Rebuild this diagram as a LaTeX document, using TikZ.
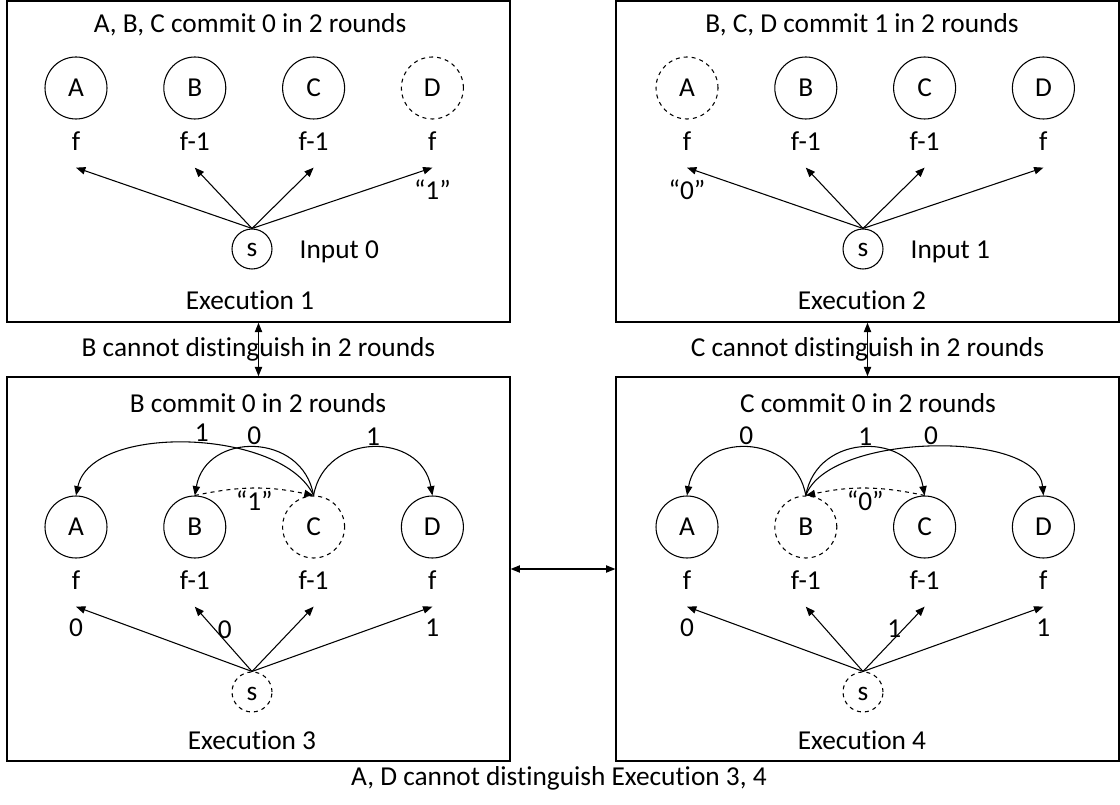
\documentclass[tikz,border=0pt]{standalone}
\usepackage{fontspec}
\setmainfont{Carlito}[Ligatures={TeX,NoCommon}]
\usetikzlibrary{shapes,arrows.meta,positioning}
\tikzstyle{proc} = [draw, circle, minimum size=46.5pt, inner sep=0pt]
\tikzstyle{faulty} = [proc, dashed]
\tikzstyle{src} = [draw, circle, minimum size=30pt, inner sep=0pt, text height=12pt, text depth=0pt]
\tikzstyle{panel} = [draw, line width=1.2pt, minimum width=377pt, inner sep=0pt]
\tikzstyle{lbl} = [inner sep=0pt, text height=14pt, text depth=0pt]
\tikzstyle{msg} = [inner sep=1.5pt]

\begin{document}
\begin{tikzpicture}[->,>={Triangle[length=7pt,width=5.5pt]},x=0.75pt,y=-0.75pt,
  node distance=41.8pt,line width=0.8pt,font=\fontsize{20.5}{24}\selectfont]
\useasboundingbox (0,0) rectangle (1120,805);

% the four executions
\node[panel, minimum height=240.75pt] (P1) at (258.5,161.5) {};
\node[panel, minimum height=240.75pt] (P2) at (867.5,161.5) {};
\node[panel, minimum height=288pt] (P3) at (258.5,569) {};
\node[panel, minimum height=288pt] (P4) at (867.5,569) {};

% Execution 1
\node (T1) at (250,25) {A, B, C commit 0 in 2 rounds};
\node[proc] (A1) at (76,88) {A};
\node[proc, right=of A1] (B1) {B};
\node[proc, right=of B1] (C1) {C};
\node[faulty, right=of C1] (D1) {D};
\node[lbl, below=8.8pt of A1] (fA1) {f};
\node[lbl, below=8.8pt of B1] (fB1) {f-1};
\node[lbl, below=8.8pt of C1] (fC1) {f-1};
\node[lbl, below=8.8pt of D1] (fD1) {f};
\coordinate[below=12.5pt of fA1] (tA1);
\coordinate[below=12.5pt of fB1] (tB1);
\coordinate[below=12.5pt of fC1] (tC1);
\coordinate[below=12.5pt of fD1] (tD1);
\node[src] (s1) at (252,249) {s};
\node[lbl, right=20pt of s1] (in1) {Input 0};
\node (E1) at (250,300) {Execution 1};
\path
(s1.north) edge (tA1)
(s1.north) edge (tB1)
(s1.north) edge (tC1)
(s1.north) edge node[at end, below=7pt, msg] {``1''} (tD1);

% Execution 2
\node (T2) at (862,25) {B, C, D commit 1 in 2 rounds};
\node[faulty] (A2) at (687,88) {A};
\node[proc, right=of A2] (B2) {B};
\node[proc, right=of B2] (C2) {C};
\node[proc, right=of C2] (D2) {D};
\node[lbl, below=8.8pt of A2] (fA2) {f};
\node[lbl, below=8.8pt of B2] (fB2) {f-1};
\node[lbl, below=8.8pt of C2] (fC2) {f-1};
\node[lbl, below=8.8pt of D2] (fD2) {f};
\coordinate[below=12.5pt of fA2] (tA2);
\coordinate[below=12.5pt of fB2] (tB2);
\coordinate[below=12.5pt of fC2] (tC2);
\coordinate[below=12.5pt of fD2] (tD2);
\node[src] (s2) at (863,249) {s};
\node[lbl, right=20pt of s2] (in2) {Input 1};
\node (E2) at (862,300) {Execution 2};
\path
(s2.north) edge node[at end, below=7pt, msg] {``0''} (tA2)
(s2.north) edge (tB2)
(s2.north) edge (tC2)
(s2.north) edge (tD2);

% Execution 3
\node (T3) at (258,403) {B commit 0 in 2 rounds};
\node[proc] (A3) at (76,527) {A};
\node[proc, right=of A3] (B3) {B};
\node[faulty, right=of B3] (C3) {C};
\node[proc, right=of C3] (D3) {D};
\node[lbl, below=8.8pt of A3] (fA3) {f};
\node[lbl, below=8.8pt of B3] (fB3) {f-1};
\node[lbl, below=8.8pt of C3] (fC3) {f-1};
\node[lbl, below=8.8pt of D3] (fD3) {f};
\coordinate[below=12.5pt of fA3] (tA3);
\coordinate[below=12.5pt of fB3] (tB3);
\coordinate[below=12.5pt of fC3] (tC3);
\coordinate[below=12.5pt of fD3] (tD3);
\node[src, dashed] (s3) at (252,692) {s};
\node (E3) at (252,740) {Execution 3};
\path
(s3.north) edge node[at end, below=7pt, msg] {0} (tA3)
(s3.north) edge node[pos=0.64, right, msg] {0} (tB3)
(s3.north) edge (tC3)
(s3.north) edge node[at end, below=7pt, msg] {1} (tD3)
(C3.north) edge [out=115, in=78, looseness=0.8] node[above, pos=0.46, msg] {1} (A3.north)
(C3.north) edge [out=100, in=80, looseness=1.4] node[above, msg] {0} (B3.north)
(C3.north) edge [out=80, in=100, looseness=1.4] node[above, msg] {1} (D3.north)
(B3.north) edge [bend left=12, dashed] node[below, msg] {``1''} (C3.north);

% Execution 4
\node (T4) at (868,403) {C commit 0 in 2 rounds};
\node[proc] (A4) at (687,527) {A};
\node[faulty, right=of A4] (B4) {B};
\node[proc, right=of B4] (C4) {C};
\node[proc, right=of C4] (D4) {D};
\node[lbl, below=8.8pt of A4] (fA4) {f};
\node[lbl, below=8.8pt of B4] (fB4) {f-1};
\node[lbl, below=8.8pt of C4] (fC4) {f-1};
\node[lbl, below=8.8pt of D4] (fD4) {f};
\coordinate[below=12.5pt of fA4] (tA4);
\coordinate[below=12.5pt of fB4] (tB4);
\coordinate[below=12.5pt of fC4] (tC4);
\coordinate[below=12.5pt of fD4] (tD4);
\node[src, dashed] (s4) at (863,692) {s};
\node (E4) at (862,740) {Execution 4};
\path
(s4.north) edge node[at end, below=7pt, msg] {0} (tA4)
(s4.north) edge (tB4)
(s4.north) edge node[pos=0.66, left, msg] {1} (tC4)
(s4.north) edge node[at end, below=7pt, msg] {1} (tD4)
(B4.north) edge [out=100, in=80, looseness=1.4] node[above, msg] {0} (A4.north)
(B4.north) edge [out=80, in=100, looseness=1.4] node[above, msg] {1} (C4.north)
(B4.north) edge [out=70, in=95, looseness=0.72] node[above, msg] {0} (D4.north)
(C4.north) edge [bend right=12, dashed] node[below, msg] {``0''} (B4.north);

% indistinguishability
\path[<->]
(P1.south) edge node {B cannot distinguish in 2 rounds} (P3.north)
(P2.south) edge node {C cannot distinguish in 2 rounds} (P4.north)
(P3.east) edge (P4.west);
\node (note) at (559,778) {A, D cannot distinguish Execution 3, 4};
\end{tikzpicture}
\end{document}
